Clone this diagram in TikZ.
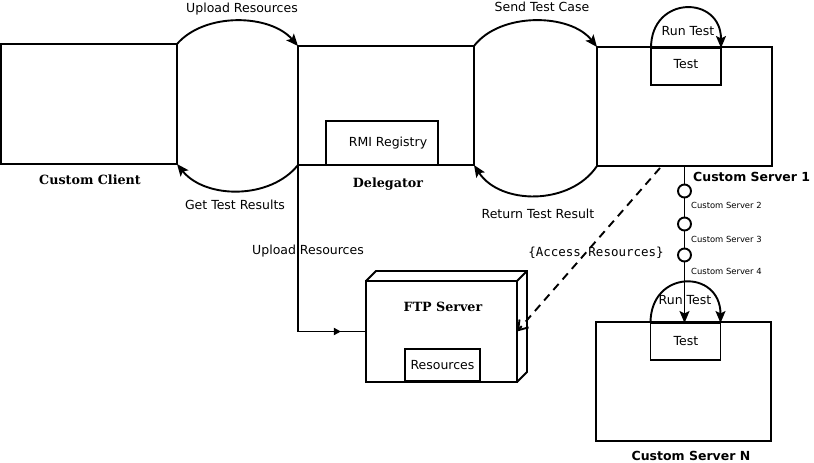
\documentclass[tikz,border=0pt]{standalone}
\usepackage{fontspec}
\setmainfont{DejaVu Serif}
\setsansfont{DejaVu Sans}
\setmonofont{DejaVu Sans Mono}
\usetikzlibrary{arrows.meta,decorations.markings,calc}
\begin{document}
\begin{tikzpicture}[x=1pt,y=-1pt,
  lw/.style={line width=1.9pt},
  box/.style={draw,lw,outer sep=0pt,inner sep=0pt},
  txt/.style={font=\sffamily\fontsize{12.5}{15}\selectfont,inner sep=0pt},
  small/.style={font=\sffamily\fontsize{8.4}{10}\selectfont,inner sep=0pt,anchor=west},
  title/.style={font=\bfseries\fontsize{12.7}{15}\selectfont,inner sep=0pt},
  stitle/.style={font=\sffamily\bfseries\fontsize{12.5}{15}\selectfont,inner sep=0pt},
  flow/.style={lw,-{Stealth[length=12pt,width=10pt,inset=2.5pt]}},
  ring/.style={draw,circle,lw,minimum size=13pt,inner sep=0pt,outer sep=0pt},
  midarrow/.style={postaction={decorate},decoration={markings,mark=at position 0.893 with {\arrow{Stealth[length=7pt,width=7pt,inset=0pt]}}}}
]
\useasboundingbox (0,0) rectangle (814,463);

% boxes
\node[box,minimum width=176pt,minimum height=120pt] (client) at (89,104) {};
\node[box,minimum width=176pt,minimum height=119pt] (deleg) at (386,105.5) {};
\node[box,minimum width=112pt,minimum height=44pt,txt] (rmi) at (382,143) {\hspace*{12pt}RMI Registry};
\node[box,minimum width=175pt,minimum height=119pt] (cs1) at (684.5,106.5) {};
\node[box,minimum width=70pt,minimum height=37pt] (test1) at (686,66.5) {};
\node[txt] (test1t) at (686,64) {Test};
\node[box,minimum width=175pt,minimum height=119pt] (csn) at (683.5,381.5) {};
\node[box,minimum width=70pt,minimum height=37pt] (testn) at (685.5,341.5) {};
\node[txt] (testnt) at (686,341) {Test};

% FTP server
\node[box,minimum width=151pt,minimum height=101pt] (ftp) at (441.5,331.5) {};
\draw[lw,line join=miter] (ftp.north west) -- ++(10,-10) -- ($(ftp.north east)+(10,-10)$) -- ($(ftp.south east)+(10,-10)$) -- (ftp.south east);
\draw[lw] (ftp.north east) -- ++(10,-10);
\node[title] (ftpt) at (443,307) {FTP Server};
\node[box,minimum width=75pt,minimum height=32pt,txt] (res) at (442.5,365) {Resources};

% titles
\node[title] (clientt) at (90,180) {Custom Client};
\node[title] (delegt) at (388,184) {Delegator};
\node[stitle,anchor=west] (cs1t) at (693,177) {Custom Server 1};
\node[stitle] (csnt) at (691,456) {Custom Server N};

% flows between boxes
\draw[flow] (client.north east) .. controls +(28,-32) and +(-28,-32) .. (deleg.north west);
\draw[flow] (deleg.south west) .. controls +(-28,35) and +(28,35) .. (client.south east);
\draw[flow] (deleg.north east) .. controls +(26,-34) and +(-27,-34) .. (cs1.north west);
\draw[flow] (cs1.south west) .. controls +(-27,40) and +(26,40) .. (deleg.south east);
\node[txt] (l1) at (242,9) {Upload Resources};
\node[txt] (l2) at (235,205) {Get Test Results};
\node[txt] (l3) at (542,7) {Send Test Case};
\node[txt] (l4) at (538,214) {Return Test Result};

% run test loops
\draw[flow] (test1.north west) .. controls +(0,-53) and +(0,-53) .. (test1.north east);
\node[txt] (rt1) at (688,31) {Run Test};
\draw[flow] (testn.north west) .. controls +(0,-54) and +(0,-54) .. (testn.north east);
\node[txt] (rtn) at (685,300) {Run Test};

% upload to ftp
\draw[lw,midarrow] (deleg.south west) |- (ftp.west);
\node[txt] (l5) at (308,251) {Upload Resources};

% access resources
\coordinate (ds) at ($(cs1.south west)!0.36!(cs1.south east)+(0,2)$);
\draw[lw,dash pattern=on 8pt off 6pt,-{Straight Barb[length=9pt,width=12pt]}] (ds) -- (ftp.east);
\node[font=\ttfamily\fontsize{12.5}{15}\selectfont,inner sep=0pt] (l6) at (596,253) {\{Access Resources\}};

% server chain
\node[ring] (c2) at (684.5,191) {};
\node[ring] (c3) at (684.5,224) {};
\node[ring] (c4) at (684.5,255) {};
\draw[lw] (cs1.south -| c2) -- (c2);
\draw[lw] (c2) -- (c3);
\draw[lw] (c3) -- (c4);
\draw[flow] (c4) -- (c4 |- testn.north);
\node[small] (s2) at (691,205) {Custom Server 2};
\node[small] (s3) at (691,239) {Custom Server 3};
\node[small] (s4) at (691,271) {Custom Server 4};
\end{tikzpicture}
\end{document}
